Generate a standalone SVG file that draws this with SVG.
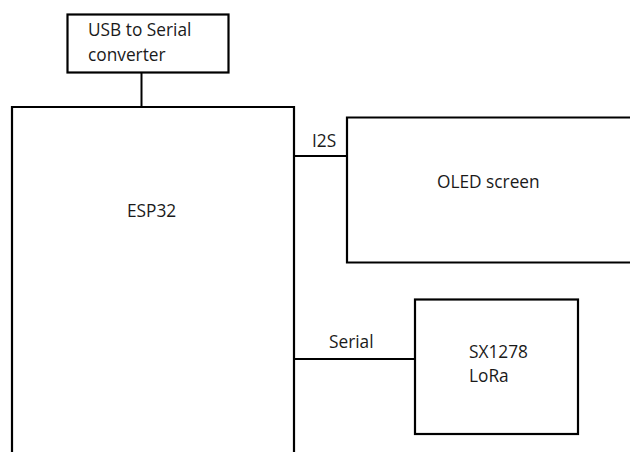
<svg xmlns="http://www.w3.org/2000/svg" width="630" height="452" viewBox="0 0 630 452">
<style>
.box{fill:#fff;stroke:#000;stroke-width:2.2}
.open{fill:none;stroke:#000;stroke-width:2.2}
.wire{fill:none;stroke:#000;stroke-width:2}
text{font-family:"Open Sans","Liberation Sans",sans-serif;font-size:17.3px;fill:#1a1a1a}
</style>
<rect width="630" height="452" fill="#fff"/>
<g id="connectors">
<line class="wire" x1="141.5" y1="73" x2="141.5" y2="107"/>
<line class="wire" x1="294" y1="156" x2="347" y2="156"/>
<line class="wire" x1="294" y1="359" x2="415" y2="359"/>
<text x="312" y="147">I2S</text>
<text x="329" y="348">Serial</text>
</g>
<g id="usb">
<rect class="box" x="67.5" y="14.5" width="161" height="58"/>
<text x="88" y="36">USB to Serial</text>
<text x="88" y="61">converter</text>
</g>
<g id="esp32">
<path class="open" d="M12 452 V107 H294 V452"/>
<text x="127" y="217">ESP32</text>
</g>
<g id="oled">
<path class="open" d="M631 117.5 H347 V262.5 H631"/>
<text x="437" y="188">OLED screen</text>
</g>
<g id="lora">
<rect class="box" x="415" y="299.5" width="163" height="134.5"/>
<text x="469" y="358">SX1278</text>
<text x="469" y="382">LoRa</text>
</g>
</svg>
